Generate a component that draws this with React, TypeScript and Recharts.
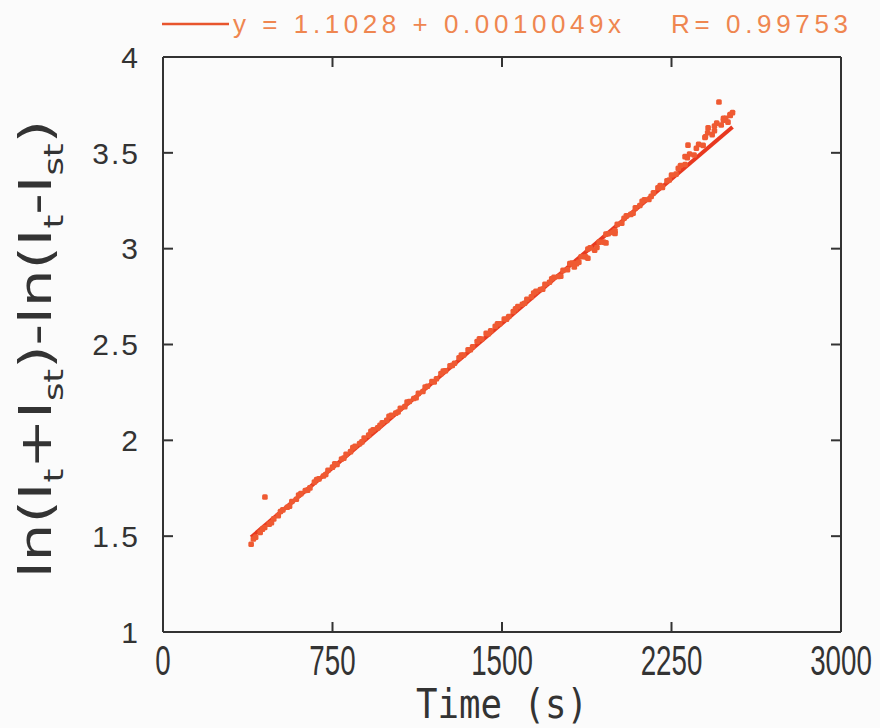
import React from 'react';
import { ComposedChart, Scatter, Line, XAxis, YAxis } from 'recharts';

const xTicks = [0, 750, 1500, 2250, 3000];
const yTicks = [1, 1.5, 2, 2.5, 3, 3.5, 4];

const times = [
  390, 410, 430, 450, 470, 490, 510, 530, 550, 570,
  590, 610, 630, 650, 670, 690, 710, 730, 750, 770,
  790, 810, 830, 850, 870, 890, 910, 930, 950, 970,
  990, 1010, 1030, 1050, 1070, 1090, 1110, 1130, 1150, 1170,
  1190, 1210, 1230, 1250, 1270, 1290, 1310, 1330, 1350, 1370,
  1390, 1410, 1430, 1450, 1470, 1490, 1510, 1530, 1550, 1570,
  1590, 1610, 1630, 1650, 1670, 1690, 1710, 1730, 1750, 1770,
  1790, 1810, 1830, 1850, 1870, 1890, 1910, 1930, 1950, 1970,
  1990, 2010, 2030, 2050, 2070, 2090, 2110, 2130, 2150, 2170,
  2190, 2210, 2230, 2250, 2270, 2290, 2310, 2330, 2350, 2370,
  2390, 2410, 2430, 2450, 2470, 2490, 2510,
  451, 2323, 2310, 2412, 2460, 2509, 2398, 1880, 1960, 2000,
  1820, 2520, 2500, 2440, 2480,
  400, 440, 480, 520, 560, 600, 640, 680, 720, 760,
  800, 840, 880, 920, 960, 1000, 1040, 1080, 1120, 1160,
  1200, 1240, 1280, 1320, 1360, 1400, 1440, 1480, 1520, 1560,
  1600, 1640, 1680, 1720, 1760, 1800, 1840, 1880, 1920, 1960,
  2000, 2040, 2080, 2120, 2160, 2200, 2240, 2280, 2320, 2360,
  2400, 2440, 2480,
];

const values = [
  1.458, 1.495, 1.520, 1.545, 1.563, 1.590, 1.607, 1.637, 1.651, 1.681,
  1.693, 1.722, 1.738, 1.752, 1.783, 1.799, 1.814, 1.844, 1.860, 1.874,
  1.903, 1.927, 1.941, 1.969, 1.983, 2.012, 2.027, 2.055, 2.065, 2.092,
  2.104, 2.130, 2.142, 2.167, 2.176, 2.203, 2.218, 2.245, 2.255, 2.282,
  2.307, 2.321, 2.348, 2.363, 2.389, 2.402, 2.431, 2.445, 2.473, 2.488,
  2.516, 2.529, 2.558, 2.571, 2.595, 2.608, 2.633, 2.646, 2.672, 2.698,
  2.710, 2.736, 2.749, 2.777, 2.787, 2.814, 2.825, 2.851, 2.855, 2.887,
  2.890, 2.925, 2.922, 2.958, 2.957, 3.004, 2.992, 3.034, 3.034, 3.078,
  3.084, 3.127, 3.133, 3.171, 3.179, 3.213, 3.225, 3.255, 3.257, 3.291,
  3.317, 3.320, 3.354, 3.384, 3.389, 3.434, 3.439, 3.494, 3.489, 3.544,
  3.539, 3.605, 3.595, 3.655, 3.645, 3.680, 3.695,
  1.704, 3.540, 3.480, 3.630, 3.765, 3.700, 3.580, 2.950, 3.030, 3.080,
  2.905, 3.710, 3.660, 3.640, 3.670,
  1.485, 1.537, 1.570, 1.629, 1.656, 1.714, 1.740, 1.796, 1.822, 1.878,
  1.907, 1.962, 1.992, 2.047, 2.079, 2.126, 2.148, 2.200, 2.222, 2.278,
  2.305, 2.361, 2.391, 2.445, 2.473, 2.530, 2.556, 2.608, 2.632, 2.686,
  2.715, 2.769, 2.789, 2.843, 2.856, 2.922, 2.930, 2.998, 3.006, 3.076,
  3.093, 3.159, 3.185, 3.247, 3.273, 3.329, 3.358, 3.419, 3.474, 3.524,
  3.584, 3.615, 3.680,
];

const fitTimes = [390, 2520];
const fitValues = [1.4947, 3.6352];

const legendEquation = 'y = 1.1028 + 0.0010049x';
const legendR = 'R= 0.99753';

const scatterData = times.map((t, i) => ({ x: t, y: values[i] }));
const fitData = fitTimes.map((t, i) => ({ x: t, y: fitValues[i] }));

const AXIS_COLOR = '#333333';

const PointShape = (props: any) => {
  const { cx, cy } = props;
  if (cx == null || cy == null) return null;
  return <rect x={cx - 2.8} y={cy - 2.8} width={5.6} height={5.6} rx={1.5} fill="#ef5a32" />;
};

const XTick = (props: any) => {
  const { x, y, payload } = props;
  return (
    <g transform={`translate(${x},${y})`}>
      <text
        transform="scale(0.66,1)"
        textAnchor="middle"
        dy="0.71em"
        fontSize={42}
        fill={AXIS_COLOR}
        fontFamily="Liberation Sans, Arial, sans-serif"
      >
        {payload.value}
      </text>
    </g>
  );
};

const YTick = (props: any) => {
  const { x, y, payload } = props;
  return (
    <text
      x={x}
      y={y}
      textAnchor="end"
      dy="0.36em"
      fontSize={30}
      letterSpacing={2}
      fill={AXIS_COLOR}
      fontFamily="Liberation Sans, Arial, sans-serif"
    >
      {payload.value}
    </text>
  );
};

export default function App() {
  return (
    <div style={{ position: 'absolute', left: 0, top: 0, width: 880, height: 728, background: '#fbfbfb' }}>
      <ComposedChart width={880} height={728} margin={{ top: 56, right: 38, bottom: 0, left: 0 }}>
        <XAxis
          xAxisId="b"
          type="number"
          dataKey="x"
          domain={[0, 3000]}
          ticks={xTicks}
          orientation="bottom"
          height={96}
          tickSize={-10}
          tickMargin={23}
          tick={XTick}
          stroke={AXIS_COLOR}
          strokeWidth={2}
          allowDataOverflow
        />
        <XAxis
          xAxisId="t"
          type="number"
          dataKey="x"
          domain={[0, 3000]}
          ticks={xTicks}
          orientation="top"
          height={1}
          tickSize={-10}
          tick={() => null}
          stroke={AXIS_COLOR}
          strokeWidth={2}
          allowDataOverflow
        />
        <YAxis
          yAxisId="l"
          type="number"
          dataKey="y"
          domain={[1, 4]}
          ticks={yTicks}
          orientation="left"
          width={163}
          tickSize={-10}
          tickMargin={33}
          tick={YTick}
          stroke={AXIS_COLOR}
          strokeWidth={2}
          allowDataOverflow
        />
        <YAxis
          yAxisId="r"
          type="number"
          dataKey="y"
          domain={[1, 4]}
          ticks={yTicks}
          orientation="right"
          width={1}
          tickSize={-10}
          tick={() => null}
          stroke={AXIS_COLOR}
          strokeWidth={2}
          allowDataOverflow
        />
        <Scatter
          xAxisId="b"
          yAxisId="l"
          data={scatterData}
          dataKey="y"
          shape={PointShape}
          isAnimationActive={false}
        />
        <Line
          xAxisId="b"
          yAxisId="l"
          data={fitData}
          dataKey="y"
          type="linear"
          stroke="#e8381f"
          strokeWidth={4}
          dot={false}
          activeDot={false}
          isAnimationActive={false}
        />
        <Scatter xAxisId="t" yAxisId="r" data={[]} dataKey="y" isAnimationActive={false} />
        <g>
          <line x1={162} y1={24} x2={229} y2={24} stroke="#e8552d" strokeWidth={2.5} />
          <text
            x={233}
            y={33}
            fontSize={26}
            fill="#ef8650"
            textLength={388}
            lengthAdjust="spacing"
            fontFamily="Liberation Sans, Arial, sans-serif"
          >
            {legendEquation}
          </text>
          <text
            x={671}
            y={33}
            fontSize={26}
            fill="#ef8650"
            textLength={177}
            lengthAdjust="spacing"
            fontFamily="Liberation Sans, Arial, sans-serif"
          >
            {legendR}
          </text>
          <text
            x={502}
            y={718}
            fontSize={40}
            fill={AXIS_COLOR}
            textAnchor="middle"
            textLength={172}
            lengthAdjust="spacingAndGlyphs"
            fontFamily="DejaVu Sans Mono, monospace"
          >
            Time (s)
          </text>
          <text
            transform="translate(51,349) rotate(-90)"
            textAnchor="middle"
            fontSize={44}
            fill={AXIS_COLOR}
            textLength={458}
            lengthAdjust="spacingAndGlyphs"
            fontFamily="DejaVu Sans, sans-serif"
          >
            ln(I
            <tspan fontSize={26} dy={12}>t</tspan>
            <tspan dy={-12}>+I</tspan>
            <tspan fontSize={26} dy={12}>st</tspan>
            <tspan dy={-12}>)-ln(I</tspan>
            <tspan fontSize={26} dy={12}>t</tspan>
            <tspan dy={-12}>-I</tspan>
            <tspan fontSize={26} dy={12}>st</tspan>
            <tspan dy={-12}>)</tspan>
          </text>
        </g>
      </ComposedChart>
    </div>
  );
}
